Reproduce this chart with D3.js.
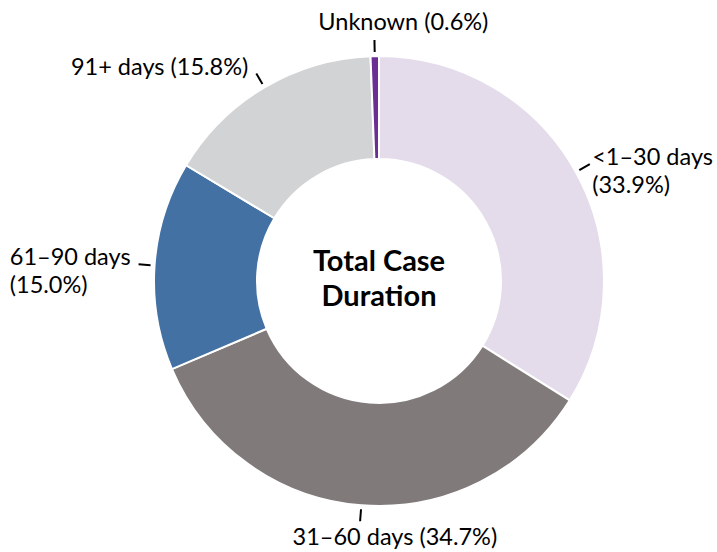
<!DOCTYPE html>
<html>
<head>
<meta charset="utf-8">
<script src="https://cdn.jsdelivr.net/npm/d3@7"></script>
<style>
	body { margin: 0; background: #fff; }
	text { font-family: Lato, "Open Sans", sans-serif; fill: #000; }
</style>
</head>
<body>
<svg id="chart" width="717" height="552"></svg>
<script>
	// values, clockwise from 12 o'clock
	var categories = ['<1\u201330 days', '31\u201360 days', '61\u201390 days', '91+ days', 'Unknown'];
	var shares = [33.9, 34.7, 15.0, 15.8, 0.6];
	var colours = ['#e4dcea', '#807b7a', '#4471a3', '#d1d3d5', '#6b2f93'];
	var wrapped = ['<1\u201330 days', '61\u201390 days']; // these labels break after the name
	var centreTitle = ['Total Case', 'Duration'];

	var svg = d3.select('#chart');
	var width = +svg.attr('width');
	var cx = 379, cy = 281;
	var outer = 225, inner = 122;

	var data = categories.map(function(c, i) {
		return { name: c, value: shares[i], colour: colours[i] };
	});

	var pie = d3.pie()
		.sort(null)
		.value(function(d) { return d.value; });

	var arc = d3.arc()
		.innerRadius(inner)
		.outerRadius(outer);

	var g = svg.append('g')
		.attr('transform', 'translate(' + cx + ',' + cy + ')');

	var slices = pie(data);

	g.selectAll('path.slice')
		.data(slices)
		.enter().append('path')
			.attr('class', 'slice')
			.attr('d', arc)
			.attr('fill', function(d) { return d.data.colour; })
			.attr('stroke', '#fff')
			.attr('stroke-width', 2);

	// little leader ticks
	function polar(a, r) {
		return [Math.sin(a) * r, -Math.cos(a) * r];
	}
	slices.forEach(function(d) {
		d.mid = (d.startAngle + d.endAngle) / 2;
		d.p0 = polar(d.mid, 229);
		d.p1 = polar(d.mid, 241);
	});

	g.selectAll('line.tick')
		.data(slices)
		.enter().append('line')
			.attr('class', 'tick')
			.attr('x1', function(d) { return d.p0[0]; })
			.attr('y1', function(d) { return d.p0[1]; })
			.attr('x2', function(d) { return d.p1[0]; })
			.attr('y2', function(d) { return d.p1[1]; })
			.attr('stroke', '#000')
			.attr('stroke-width', 2);

	var fontSize = 23.5, lineH = 28;

	slices.forEach(function(d) {
		var pct = '(' + d.data.value.toFixed(1) + '%)';
		var lines = wrapped.indexOf(d.data.name) >= 0 ? [d.data.name, pct] : [d.data.name + ' ' + pct];
		var t = g.append('text')
			.attr('font-size', fontSize);
		lines.forEach(function(l, i) {
			t.append('tspan').attr('x', 0).attr('dy', i ? lineH : 0).text(l);
		});
		var w = t.node().getBBox().width;
		var px = d.p1[0], py = d.p1[1];
		var s = Math.sin(d.mid), x, y;
		if (Math.abs(s) < 0.2) {
			// top / bottom: block sits a bit right of the tick
			x = px - 0.33 * w;
			y = Math.cos(d.mid) > 0 ? py - 10 : py + 24;
		} else if (s > 0) {
			// keep it inside the right edge
			x = Math.min(px + 6, width - cx - 4 - w);
			y = py + 1;
		} else {
			x = px - 8 - w;
			y = py + 1;
		}
		t.attr('transform', 'translate(' + x + ',' + y + ')');
	});

	g.append('text')
		.attr('text-anchor', 'middle')
		.attr('font-size', 29)
		.attr('font-weight', 'bold')
		.selectAll('tspan')
		.data(centreTitle)
		.enter().append('tspan')
			.attr('x', 0)
			.attr('y', function(d, i) { return -10 + i * 35; })
			.text(function(d) { return d; });
</script>
</body>
</html>
